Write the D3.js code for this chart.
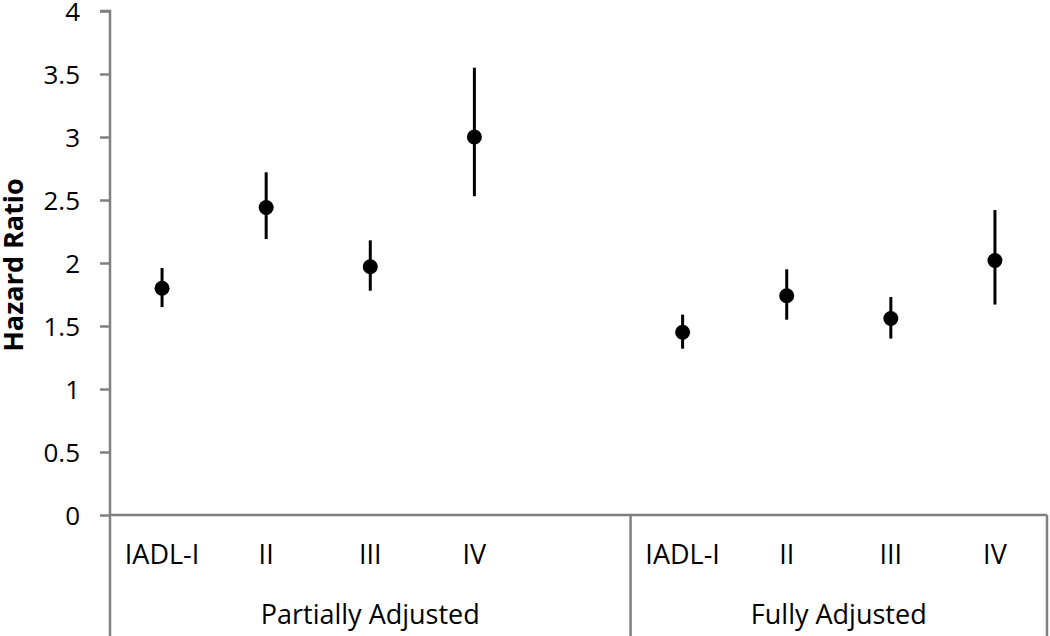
<!DOCTYPE html>
<html>
<head>
<meta charset="utf-8">
<script src="https://cdn.jsdelivr.net/npm/d3@7"></script>
<style>
  html, body { margin: 0; padding: 0; background: #fff; }
  svg { display: block; }
  text { font-family: "Open Sans", sans-serif; fill: #000; }
</style>
</head>
<body>
<svg id="chart" width="1050" height="636"></svg>
<script>
// ---- data ----
const groups = ["Partially Adjusted", "Fully Adjusted"];
const groupSlots = [5, 4]; // category slots per group (Partially Adjusted has a blank slot)
const categories = ["IADL-I", "II", "III", "IV"];
const partialHR   = [1.80, 2.44, 1.97, 3.00];
const partialLow  = [1.65, 2.19, 1.78, 2.53];
const partialHigh = [1.96, 2.72, 2.18, 3.55];
const fullHR   = [1.45, 1.74, 1.56, 2.02];
const fullLow  = [1.32, 1.55, 1.40, 1.67];
const fullHigh = [1.59, 1.95, 1.73, 2.42];
const yTicks = [0, 0.5, 1, 1.5, 2, 2.5, 3, 3.5, 4];
const yTitle = "Hazard Ratio";

(function () {
// ---- layout ----
const mLeft = 110, mRight = 1047, mTop = 11, mBottom = 515;
const axisColor = "#808080";

const svg = d3.select("#chart");

// slot keys
const slotKeys = [];
groups.forEach((g, gi) => {
  for (let i = 0; i < groupSlots[gi]; i++) slotKeys.push(g + "|" + (categories[i] || "blank" + i));
});

const x = d3.scaleBand().domain(slotKeys).range([mLeft, mRight]).padding(0);
const y = d3.scaleLinear().domain([0, 4]).range([mBottom, mTop]);

const seriesValues = [
  { hr: partialHR, lo: partialLow, hi: partialHigh },
  { hr: fullHR, lo: fullLow, hi: fullHigh }
];
const points = [];
groups.forEach((g, gi) => {
  categories.forEach((c, ci) => {
    points.push({ key: g + "|" + c, hr: seriesValues[gi].hr[ci], lo: seriesValues[gi].lo[ci], hi: seriesValues[gi].hi[ci] });
  });
});

// y axis
const yAxis = d3.axisLeft(y).tickValues(yTicks).tickSize(10).tickPadding(20).tickFormat(d3.format("~g"));
const yg = svg.append("g").attr("transform", `translate(${mLeft},0)`).call(yAxis);
yg.select(".domain").attr("stroke", axisColor).attr("stroke-width", 2.5).attr("d", `M-10,${mTop}H0V${mBottom}`);
yg.selectAll(".tick line").attr("stroke", axisColor).attr("stroke-width", 2.5);
yg.selectAll(".tick text").attr("font-size", 26).attr("font-family", "Open Sans, sans-serif").attr("fill", "#000").attr("dy", "0.35em");
// extend y axis line down through category area
svg.append("line").attr("x1", mLeft).attr("x2", mLeft).attr("y1", mBottom).attr("y2", 636)
  .attr("stroke", axisColor).attr("stroke-width", 2.5);

// x axis baseline
svg.append("line").attr("x1", mLeft).attr("x2", mRight).attr("y1", y(0)).attr("y2", y(0))
  .attr("stroke", axisColor).attr("stroke-width", 2.5);

// group dividers and labels
let acc = 0;
groups.forEach((g, gi) => {
  const firstKey = slotKeys[acc];
  const lastKey = slotKeys[acc + groupSlots[gi] - 1];
  const x0 = x(firstKey), x1 = x(lastKey) + x.bandwidth();
  if (gi > 0) svg.append("line").attr("x1", x0).attr("x2", x0).attr("y1", mBottom).attr("y2", 636)
      .attr("stroke", axisColor).attr("stroke-width", 2.5);
  if (gi === groups.length - 1) svg.append("line").attr("x1", x1).attr("x2", x1).attr("y1", mBottom).attr("y2", 636)
      .attr("stroke", axisColor).attr("stroke-width", 2.5);
  svg.append("text").attr("x", (x0 + x1) / 2).attr("y", 624).attr("text-anchor", "middle")
    .attr("font-size", 27).text(g);
  acc += groupSlots[gi];
});

// category labels
svg.selectAll("text.cat").data(points).enter().append("text").attr("class", "cat")
  .attr("x", d => x(d.key) + x.bandwidth() / 2).attr("y", 564).attr("text-anchor", "middle")
  .attr("font-size", 27).text(d => d.key.split("|")[1]);

// error bars
svg.selectAll("line.err").data(points).enter().append("line").attr("class", "err")
  .attr("x1", d => x(d.key) + x.bandwidth() / 2).attr("x2", d => x(d.key) + x.bandwidth() / 2)
  .attr("y1", d => y(d.lo)).attr("y2", d => y(d.hi))
  .attr("stroke", "#000").attr("stroke-width", 3);

// points
svg.selectAll("circle.pt").data(points).enter().append("circle").attr("class", "pt")
  .attr("cx", d => x(d.key) + x.bandwidth() / 2).attr("cy", d => y(d.hr)).attr("r", 7.5)
  .attr("fill", "#000");

// y title
svg.append("text").attr("transform", `translate(23,${(mTop + mBottom) / 2 + 2}) rotate(-90)`)
  .attr("text-anchor", "middle").attr("font-size", 27).attr("font-weight", "bold").text(yTitle);
})();
</script>
</body>
</html>
